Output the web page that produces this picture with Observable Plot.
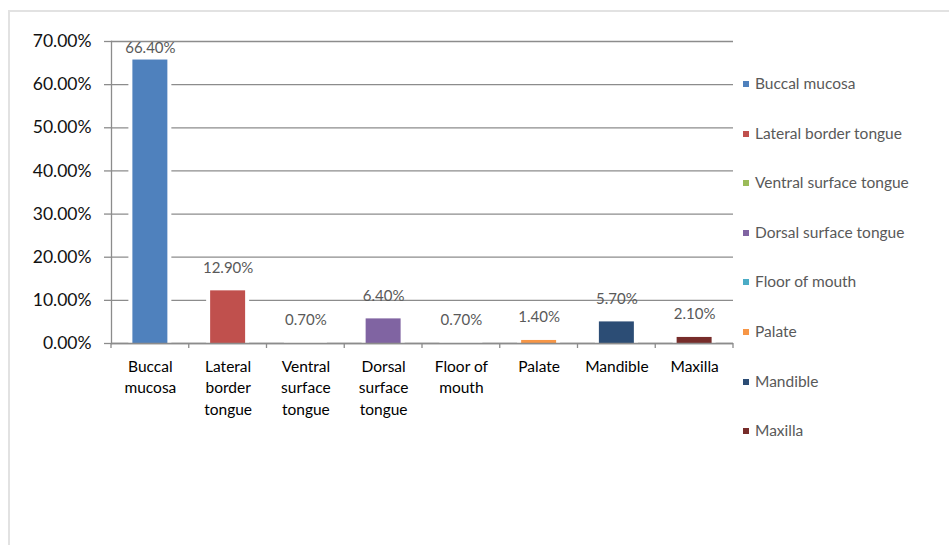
<!DOCTYPE html>
<html>
<head>
<meta charset="utf-8">
<script src="https://cdn.jsdelivr.net/npm/d3@7"></script>
<script src="https://cdn.jsdelivr.net/npm/@observablehq/plot@0.6"></script>
<style>
  html, body { margin: 0; padding: 0; background: #fff; overflow: hidden; }
  #wrap { position: relative; width: 949px; height: 545px; font-family: Lato, "Open Sans", sans-serif; }
  #border { position: absolute; left: 8px; top: 10px; right: 0; bottom: 0; border-top: 2px solid #e2e2e2; border-left: 2px solid #e2e2e2; }
  #chart { position: absolute; left: 0; top: 0; }
  .legend-item { position: absolute; left: 743px; height: 20px; line-height: 20px; font-size: 15.5px; color: #595959; white-space: nowrap; }
  .legend-item span.sw { display: inline-block; width: 6px; height: 6px; margin-right: 6px; vertical-align: middle; position: relative; top: -1px; }
</style>
</head>
<body>
<div id="wrap">
  <div id="border"></div>
  <div id="chart"></div>
  <div id="legend"></div>
</div>
<script>
const categories = ["Buccal mucosa", "Lateral border tongue", "Ventral surface tongue", "Dorsal surface tongue", "Floor of mouth", "Palate", "Mandible", "Maxilla"];
const tickLabels = ["Buccal\nmucosa", "Lateral\nborder\ntongue", "Ventral\nsurface\ntongue", "Dorsal\nsurface\ntongue", "Floor of\nmouth", "Palate", "Mandible", "Maxilla"];
const percentages = [66.4, 12.9, 0.7, 6.4, 0.7, 1.4, 5.7, 2.1];
const colors = ["#4F81BD", "#C0504D", "#9BBB59", "#8064A2", "#4BACC6", "#F79646", "#2C4D75", "#772C2A"];
const yTicks = [0, 10, 20, 30, 40, 50, 60, 70];
const labelCeiling = 63.8; // data labels are kept inside the plot area

const data = categories.map((c, i) => ({category: c, value: percentages[i]}));
const gridColor = "#8c8c8c";

const chart = Plot.plot({
  width: 949,
  height: 545,
  marginLeft: 111,
  marginRight: 216,
  marginTop: 41,
  marginBottom: 202,
  style: {fontFamily: "Lato, 'Open Sans', sans-serif", background: "transparent", color: "#000", overflow: "visible"},
  x: {domain: categories, paddingInner: 0.55, paddingOuter: 0.275, round: false, label: null},
  y: {domain: [0, 70], label: null},
  color: {domain: categories, range: colors},
  marks: [
    Plot.gridY(yTicks, {stroke: gridColor, strokeOpacity: 1, strokeWidth: 1.3}),
    Plot.barY(data, {x: "category", y: "value", fill: "white", insetLeft: -4, insetRight: -4}),
    Plot.barY(data, {x: "category", y: "value", fill: "category", insetTop: 3}),
    Plot.ruleY([0], {stroke: gridColor, strokeWidth: 1.5}),
    Plot.axisY({ticks: yTicks, tickSize: 7, tickPadding: 13, tickFormat: d => d.toFixed(2) + "%", fontSize: 17.5, fill: "#111", stroke: gridColor, strokeWidth: 1.3}),
    Plot.axisX({tickSize: 0, tickPadding: 13, tickFormat: d => tickLabels[categories.indexOf(d)], fontSize: 15.5, lineHeight: 1.39, fill: "#000"}),
    Plot.frame({anchor: "left", stroke: gridColor, strokeWidth: 1.3}),
    Plot.text(data, {x: "category", y: d => Math.min(d.value, labelCeiling), dy: -20, text: d => d.value.toFixed(2) + "%", fill: "#595959", fontSize: 15})
  ]
});

// category boundary tick marks below the x axis, placed with Plot's own scales
const xs = chart.scale("x");
const y0 = chart.scale("y").apply(0);
const half = (xs.step - xs.bandwidth) / 2;
const bounds = categories.map(c => xs.apply(c) - half).concat([xs.apply(categories[categories.length - 1]) + xs.bandwidth + half]);
d3.select(chart).append("g")
  .selectAll("line").data(bounds).join("line")
  .attr("x1", d => d).attr("x2", d => d)
  .attr("y1", y0).attr("y2", y0 + 5)
  .attr("stroke", gridColor).attr("stroke-width", 1.3);

document.getElementById("chart").appendChild(chart);

// legend on the right
const legendTop = 83, legendStep = 49.6;
const legend = d3.select("#legend");
categories.forEach((c, i) => {
  const item = legend.append("div").attr("class", "legend-item").style("top", (legendTop + i * legendStep - 10) + "px");
  item.append("span").attr("class", "sw").style("background", colors[i]);
  item.append("span").text(c);
});
</script>
</body>
</html>
